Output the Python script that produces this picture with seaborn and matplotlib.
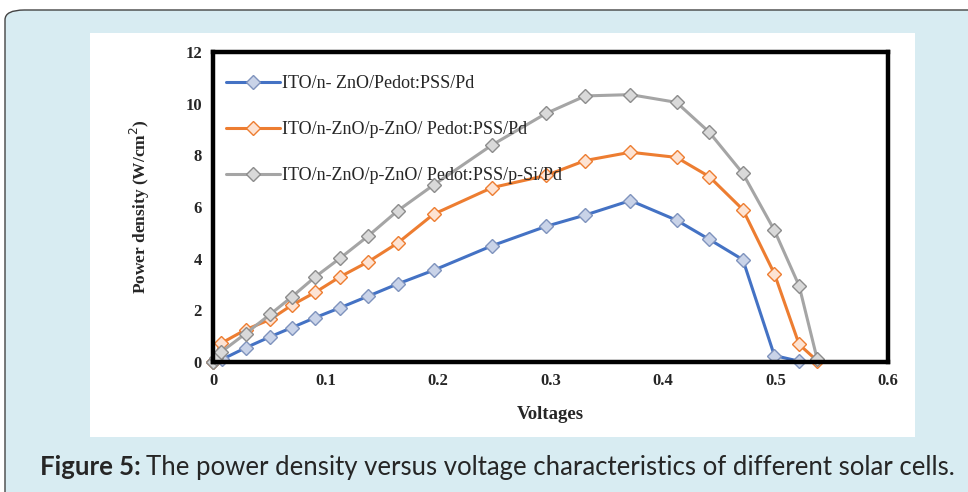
import numpy as np
import pandas as pd
import matplotlib
matplotlib.use("Agg")
import matplotlib.pyplot as plt
from matplotlib.patches import FancyBboxPatch, Rectangle
import seaborn as sns

# Dados
labels = ["ITO/n- ZnO/Pedot:PSS/Pd",
          "ITO/n-ZnO/p-ZnO/ Pedot:PSS/Pd",
          "ITO/n-ZnO/p-ZnO/ Pedot:PSS/p-Si/Pd"]

v_blue = [0, 0.008, 0.029, 0.051, 0.070, 0.091, 0.113, 0.138, 0.164, 0.196,
          0.248, 0.296, 0.331, 0.371, 0.412, 0.441, 0.471, 0.499, 0.521]
p_blue = [0, 0.1, 0.55, 0.98, 1.33, 1.72, 2.1, 2.55, 3.02, 3.55,
          4.5, 5.25, 5.69, 6.25, 5.49, 4.75, 3.96, 0.25, 0.03]

v_orange = [0, 0.007, 0.029, 0.051, 0.070, 0.091, 0.113, 0.138, 0.164, 0.196,
            0.248, 0.296, 0.331, 0.371, 0.412, 0.441, 0.471, 0.499, 0.521, 0.537]
p_orange = [0, 0.72, 1.25, 1.65, 2.2, 2.7, 3.3, 3.88, 4.6, 5.72,
            6.75, 7.22, 7.8, 8.12, 7.92, 7.18, 5.9, 3.42, 0.68, 0.05]

v_gray = [0, 0.003, 0.007, 0.029, 0.051, 0.070, 0.091, 0.113, 0.138, 0.164, 0.196,
          0.248, 0.296, 0.331, 0.371, 0.412, 0.441, 0.471, 0.499, 0.521, 0.537]
p_gray = [0, 0.15, 0.38, 1.1, 1.85, 2.52, 3.3, 4.02, 4.88, 5.85, 6.85,
          8.4, 9.62, 10.3, 10.35, 10.05, 8.9, 7.3, 5.1, 2.95, 0.12]

x_ticks = [0, 0.1, 0.2, 0.3, 0.4, 0.5, 0.6]
y_ticks = [0, 2, 4, 6, 8, 10, 12]

sns.set_style("white")
plt.rcParams['font.family'] = ['Liberation Serif', 'DejaVu Serif']

fig = plt.figure(figsize=(9.68, 4.92), dpi=100, facecolor="white")

# Fundo azul claro com borda arredondada (só o canto superior esquerdo aparece)
W, H = 968, 492
bg = FancyBboxPatch((5 / W, -1.0), 2.0, 2.0 - 10 / H, boxstyle="round,pad=0,rounding_size=0.02",
                    transform=fig.transFigure, facecolor="#d8ecf2", edgecolor="#444444",
                    linewidth=1.0, zorder=-2)
fig.patches.append(bg)
# Painel branco
panel = Rectangle((90 / W, (H - 437) / H), (915 - 90) / W, (437 - 33) / H,
                  transform=fig.transFigure, facecolor="white", edgecolor="none", zorder=-1)
fig.patches.append(panel)

ax = fig.add_axes([213 / W, (H - 362) / H, (888 - 213) / W, (362 - 52) / H])
ax.set_facecolor("white")

series = [
    (v_blue, p_blue, "#4472c4", "#c9d3e8", "#7f93bd"),
    (v_orange, p_orange, "#ed7d31", "#fde3d3", "#ed7d31"),
    (v_gray, p_gray, "#a5a5a5", "#d9d9d9", "#8c8c8c"),
]
for (xs, ys, lc, fc, ec), lab in zip(series, labels):
    df = pd.DataFrame({"Voltages": xs, "Power": ys})
    sns.lineplot(data=df, x="Voltages", y="Power", ax=ax, color=lc, linewidth=2.2,
                 marker="D", markersize=7.5, markerfacecolor=fc, markeredgecolor=ec,
                 markeredgewidth=1.0, label=lab, clip_on=False, sort=False)

ax.set_xlim(0, 0.6)
ax.set_ylim(0, 12)
ax.set_xticks(x_ticks)
ax.set_xticklabels(["0", "0.1", "0.2", "0.3", "0.4", "0.5", "0.6"])
ax.set_yticks(y_ticks)
ax.tick_params(direction="in", length=4, width=1, labelsize=12, pad=8)
for lab in ax.get_xticklabels() + ax.get_yticklabels():
    lab.set_fontweight("bold")
for s in ax.spines.values():
    s.set_linewidth(3.2)
    s.set_color("black")

ax.set_xlabel("Voltages", fontsize=13.5, fontweight="bold", labelpad=12)
ax.set_ylabel("Power density (W/cm$^2$)", fontsize=12.5, fontweight="bold", labelpad=24)

leg = ax.legend(loc="upper left", bbox_to_anchor=(0.0, 0.965), frameon=False,
                fontsize=13, labelspacing=1.6, handlelength=3.0,
                handletextpad=0.1, borderaxespad=0.3)

# Legenda da figura
fig.canvas.draw()
t1 = fig.text(40 / W, (H - 467) / H, "Figure 5:", fontsize=18.5, fontweight="bold",
              family=["Lato", "DejaVu Sans"], va="center")
r = fig.canvas.get_renderer()
bb = t1.get_window_extent(renderer=r)
fig.text(bb.x1 / W + 5 / W, (H - 467) / H,
         "The power density versus voltage characteristics of different solar cells.",
         fontsize=18.5, family=["Lato", "DejaVu Sans"], va="center")

fig.savefig("out.png", dpi=100, facecolor=fig.get_facecolor())
